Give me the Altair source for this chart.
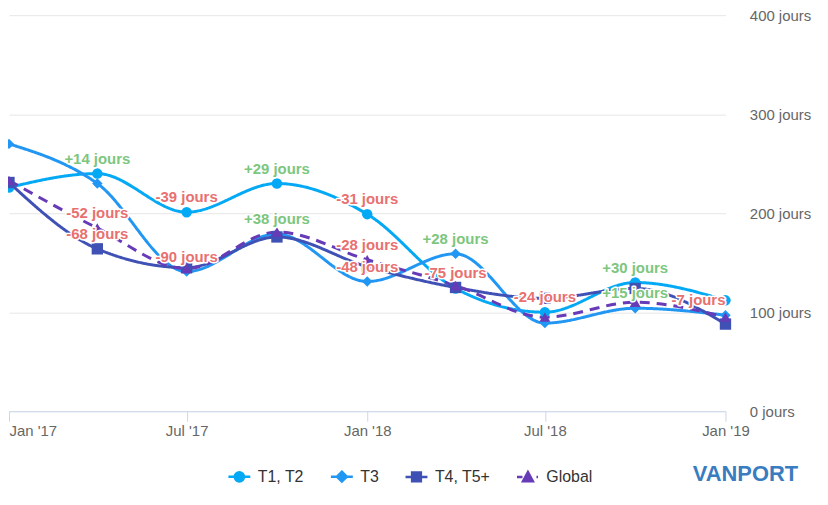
import altair as alt
import pandas as pd
import math

# ---- data ----
dates = ["2017-01-01", "2017-04-01", "2017-07-01", "2017-10-01", "2018-01-01",
         "2018-04-01", "2018-07-01", "2018-10-01", "2019-01-01"]
series_names = ["T1, T2", "T3", "T4, T5+", "Global"]
t1_t2 = [226, 240, 201, 230, 199, 124, 100, 130, 112]
t3 = [270, 230, 141, 179, 131, 159, 89, 104, 97]
t4_t5 = [231, 164, 145, 176, 146, 125, 114, 124, 88]
global_all = [233, 185, 144, 181, 153, 127, 95, 110, 95]

# data labels: (date index, series, text)
label_idx = [1, 1, 1, 2, 2, 3, 3, 4, 4, 4, 5, 5, 6, 7, 7, 8]
label_series = ["T1, T2", "Global", "T4, T5+", "T1, T2", "T3", "T1, T2", "T3",
                "T1, T2", "Global", "T3", "T3", "T1, T2", "T1, T2", "T1, T2", "T3", "T3"]
label_texts = ["+14 jours", "-52 jours", "-68 jours", "-39 jours", "-90 jours",
               "+29 jours", "+38 jours", "-31 jours", "-28 jours", "-48 jours",
               "+28 jours", "-75 jours", "-24 jours", "+30 jours", "+15 jours", "-7 jours"]

y_ticks = [0, 100, 200, 300, 400]
x_ticks = [(2017, 1), (2017, 7), (2018, 1), (2018, 7), (2019, 1)]

# ---- styles ----
series_colors = ["#03A9F4", "#2196F3", "#3F51B5", "#673AB7"]
series_shapes = ["circle", "diamond", "square", "triangle-up"]
series_sizes = [110, 110, 130, 120]


def _poly_circle(r, n=16):
    pts = [(r * math.cos(2 * math.pi * k / n), r * math.sin(2 * math.pi * k / n)) for k in range(n)]
    return "M" + "L".join(f"{x:.3f},{y:.3f}" for x, y in pts) + "Z"


legend_paths = [
    "M-1,0H1" + _poly_circle(0.42),
    "M-1,0H1M0,-0.45L0.45,0L0,0.45L-0.45,0Z",
    "M-1,0H1M-0.4,-0.4H0.4V0.4H-0.4Z",
    "M-1,0H-0.5M0.78,0H0.92M0,-0.45L0.45,0.38H-0.45Z",
]
GREEN = "#7dc67e"
RED = "#e8706f"
FONT = "Liberation Sans"

values = {"T1, T2": t1_t2, "T3": t3, "T4, T5+": t4_t5, "Global": global_all}
rows = []
for s in series_names:
    for d, v in zip(dates, values[s]):
        rows.append({"date": d, "value": v, "series": s})
df = pd.DataFrame(rows)

lab_rows = []
for i, s, t in zip(label_idx, label_series, label_texts):
    lab_rows.append({"date": dates[i], "value": values[s][i], "text": t,
                     "edge": i == len(dates) - 1})
lab_df = pd.DataFrame(lab_rows)

x_enc = alt.X(
    "date:T",
    scale=alt.Scale(type="utc", domain=[alt.DateTime(year=2017, month=1, date=1, utc=True),
                                        alt.DateTime(year=2019, month=1, date=1, utc=True)]),
    axis=alt.Axis(
        values=[alt.DateTime(year=y, month=m, date=1, utc=True) for y, m in x_ticks],
        labelExpr="utcFormat(datum.value, \"%b '%y\")", title=None, grid=False,
        domainColor="#ccd6eb", tickColor="#ccd6eb", tickSize=10, labelPadding=2,
        labelFlush=False, labelOverlap=False,
        labelAlign={"condition": {"test": "datum.index == 0", "value": "left"}, "value": "center"},
    ),
)
y_enc = alt.Y(
    "value:Q",
    scale=alt.Scale(domain=[0, 400], nice=False),
    axis=alt.Axis(orient="right", values=y_ticks, labelExpr="datum.value + ' jours'",
                  title=None, domain=False, ticks=False, gridColor="#e6e6e6",
                  labelPadding=24),
)
# data-driven (sorted) domain for the plotted series, so that the disabled legends
# of these channels do not swallow the legend-only layer's legend
color_enc = alt.Color("series:N", sort=series_names, scale=alt.Scale(range=series_colors),
                      legend=None)

lines = alt.Chart(df).mark_line(interpolate="monotone", strokeWidth=3).encode(
    x=x_enc, y=y_enc, color=color_enc,
    strokeDash=alt.StrokeDash("series:N", sort=series_names,
                              scale=alt.Scale(range=[[1, 0], [1, 0], [1, 0], [10, 7]]),
                              legend=None),
)

point_layers = []
for s, shp, sz in zip(series_names, series_shapes, series_sizes):
    point_layers.append(
        alt.Chart(df).transform_filter(alt.datum.series == s)
        .mark_point(shape=shp, filled=True, size=sz, opacity=1)
        .encode(x=x_enc, y=y_enc, color=color_enc)
    )

leg = alt.Legend(orient="none", legendX=219, legendY=451, direction="horizontal", title=None,
                 labelFont=FONT, labelFontSize=16, labelColor="#333333", symbolSize=484,
                 symbolStrokeWidth=2.5, labelOffset=6, columnPadding=21)
# legend-only layer: its y is null, so no mark is drawn, only the legend
legend_layer = alt.Chart(df).transform_calculate(hidden="null").mark_point(
    filled=True, opacity=1).encode(
    x=x_enc, y=alt.Y("hidden:Q"),
    fill=alt.Fill("series:N", scale=alt.Scale(domain=series_names, range=series_colors), legend=leg),
    stroke=alt.Stroke("series:N", scale=alt.Scale(domain=series_names, range=series_colors), legend=leg),
    shape=alt.Shape("series:N", scale=alt.Scale(domain=series_names, range=legend_paths), legend=leg),
)

label_layers = []
for edge, align in [(False, "center"), (True, "right")]:
    base = alt.Chart(lab_df).transform_filter(alt.datum.edge == edge).encode(
        x=x_enc, y=y_enc, text="text:N")
    label_layers.append(base.mark_text(font=FONT, fontSize=15, fontWeight="bold", align=align,
                                       dy=-15, fill="white", stroke="white", strokeWidth=3,
                                       strokeJoin="round"))
    label_layers.append(base.mark_text(font=FONT, fontSize=15, fontWeight="bold", align=align,
                                       dy=-15).encode(
        color=alt.condition("datum.text[0] == '+'", alt.value(GREEN), alt.value(RED))))

logo = alt.Chart(pd.DataFrame({"t": ["VANPORT"]})).mark_text(
    font=FONT, fontSize=22, fontWeight="bold", color="#3a7cc0", align="right",
    baseline="middle").encode(
    x=alt.value(793), y=alt.value(461), text="t:N")

chart = alt.layer(lines, *point_layers, legend_layer, *label_layers, logo).properties(
    width=720, height=398,
    autosize=alt.AutoSizeParams(type="none"),
    padding={"left": 1, "top": 6, "right": 95, "bottom": 84},
).configure_view(stroke=None).configure_axis(
    labelFont=FONT, labelFontSize=15, labelColor="#666666")

chart.save("out.html", embed_options={"renderer": "svg", "actions": False})
